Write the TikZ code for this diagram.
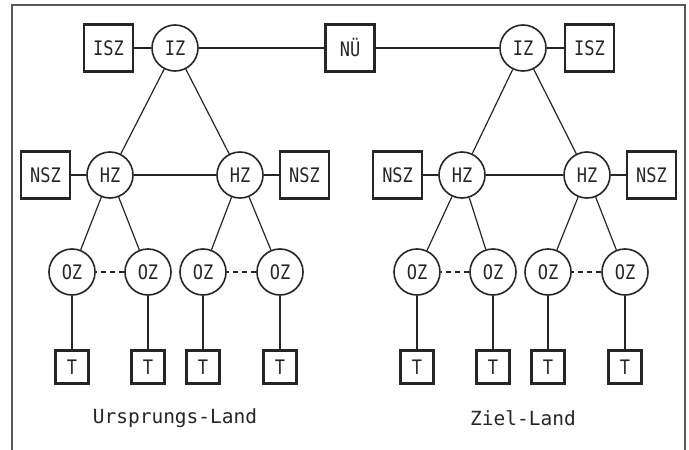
\documentclass[tikz,border=0pt]{standalone}
\usepackage{fontspec}
\setmonofont{DejaVu Sans Mono}[FakeStretch=0.85]
\newfontfamily\landfont{DejaVu Sans Mono}
\usetikzlibrary{positioning}

\begin{document}
\begin{tikzpicture}[
    x=1pt, y=-1pt, color=black!85,
    every node/.style={font=\fontsize{20}{22}\selectfont\ttfamily, inner sep=0pt, node distance=15pt},
    zentrale/.style={draw, circle, minimum size=46pt, line width=1.6pt},
    stelle/.style={draw, rectangle, minimum width=49pt, minimum height=47pt, line width=2.2pt},
    tln/.style={draw, rectangle, minimum size=33pt, line width=2.2pt},
    land/.style={font=\fontsize{19.5}{22}\selectfont\landfont},
    every edge/.style={draw, line width=1.2pt},
    verbund/.style={dash pattern=on 5pt off 4pt}]

    \useasboundingbox (0,0) rectangle (689,450);
    \draw[line width=1.2pt, black!65] (12,450) -- (12,5) -- (685,5) -- (685,450);

    \node[stelle] (nue) at (350,48) {NÜ};

    % Ursprungs-Land
    \node[zentrale] (iz1) at (175,48) {IZ} edge (nue);
        \node[stelle, node distance=17pt, left=of iz1] {ISZ} edge (iz1);
        \node[zentrale] (hz11) at (110,175) {HZ} edge (iz1);
        \node[zentrale] (hz12) at (240,175) {HZ} edge (iz1) edge (hz11);
            \node[stelle, left=of hz11] {NSZ} edge (hz11);
            \node[stelle, right=of hz12] {NSZ} edge (hz12);
            \node[zentrale] (oz11) at (72,272) {OZ} edge (hz11);
            \node[zentrale] (oz12) at (148,272) {OZ} edge (hz11) edge[verbund] (oz11);
            \node[zentrale] (oz13) at (203,272) {OZ} edge (hz12);
            \node[zentrale] (oz14) at (280,272) {OZ} edge (hz12) edge[verbund] (oz13);
                \node[tln] (t11) at (72,367) {T} edge (oz11);
                \node[tln] (t12) at (148,367) {T} edge (oz12);
                \node[tln] (t13) at (203,367) {T} edge (oz13);
                \node[tln] (t14) at (280,367) {T} edge (oz14);
    \node[land] (ursprung) at (175,418) {Ursprungs-Land};

    % Ziel-Land
    \node[zentrale] (iz2) at (523,48) {IZ} edge (nue);
        \node[stelle, node distance=17pt, right=of iz2] {ISZ} edge (iz2);
        \node[zentrale] (hz21) at (462,175) {HZ} edge (iz2);
        \node[zentrale] (hz22) at (587,175) {HZ} edge (iz2) edge (hz21);
            \node[stelle, left=of hz21] {NSZ} edge (hz21);
            \node[stelle, right=of hz22] {NSZ} edge (hz22);
            \node[zentrale] (oz21) at (417,272) {OZ} edge (hz21);
            \node[zentrale] (oz22) at (493,272) {OZ} edge (hz21) edge[verbund] (oz21);
            \node[zentrale] (oz23) at (548,272) {OZ} edge (hz22);
            \node[zentrale] (oz24) at (625,272) {OZ} edge (hz22) edge[verbund] (oz23);
                \node[tln] (t21) at (417,367) {T} edge (oz21);
                \node[tln] (t22) at (493,367) {T} edge (oz22);
                \node[tln] (t23) at (548,367) {T} edge (oz23);
                \node[tln] (t24) at (625,367) {T} edge (oz24);
    \node[land] (ziel) at (523,418) {Ziel-Land};

\end{tikzpicture}
\end{document}
